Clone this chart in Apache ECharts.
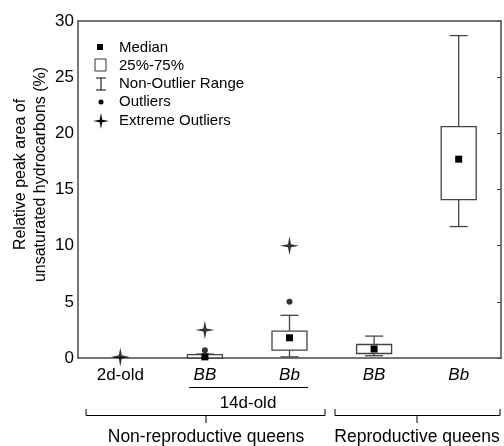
<!DOCTYPE html>
<html><head><meta charset="utf-8">
<script src="https://cdn.jsdelivr.net/npm/echarts@6/dist/echarts.min.js"></script>
<style>html,body{margin:0;padding:0;background:#fff}#c{width:504px;height:446px}</style>
</head><body><div id="c"></div>
<script>
const categories = ['2d-old', 'BB', 'Bb', 'BB2', 'Bb2'];
const categoryLabels = ['2d-old', '{i|BB}', '{i|Bb}', '{i|BB}', '{i|Bb}'];
// [low whisker, q1, median, q3, high whisker]
const boxStats = [
  null,
  [0, 0.0, 0.1, 0.3, 0.35],
  [0.1, 0.7, 1.8, 2.4, 3.8],
  [0.2, 0.4, 0.8, 1.2, 1.95],
  [11.7, 14.1, 17.7, 20.6, 28.7]
];
const outliers = [[1, 0.7], [2, 5.0]];
const extremeOutliers = [[0, 0.1], [1, 2.5], [2, 10.0]];
const yTicks = [0, 5, 10, 15, 20, 25, 30];

const chart = echarts.init(document.getElementById('c'));
const FONT = 'Liberation Sans, Arial, sans-serif';
const AX = '#4a4a4a';
const STAR = 'path://M0,-10 L1.6,-1.6 L10,0 L1.6,1.6 L0,10 L-1.6,1.6 L-10,0 L-1.6,-1.6 Z';

function starPoints(cx, cy, r, ri) {
  return [[cx, cy - r], [cx + ri, cy - ri], [cx + r, cy], [cx + ri, cy + ri],
          [cx, cy + r], [cx - ri, cy + ri], [cx - r, cy], [cx - ri, cy - ri]];
}

const boxData = [];
boxStats.forEach((s, i) => { if (s) boxData.push([i].concat(s)); });

function txt(x, y, text, size, align) {
  return { type: 'text', x: x, y: y, style: { text: text, fontSize: size || 15, fontFamily: FONT, fill: '#000',
    align: align || 'left', verticalAlign: 'middle' } };
}

chart.setOption({
  animation: false,
  textStyle: { fontFamily: FONT },
  grid: { left: 78, right: 3, top: 21, bottom: 88, containLabel: false, outerBoundsMode: 'none' },
  xAxis: [{
    type: 'category', data: categories, boundaryGap: true,
    axisLine: { lineStyle: { color: AX, width: 1.5 } },
    axisTick: { inside: true, alignWithLabel: true, length: 4, lineStyle: { color: AX } },
    axisLabel: {
      color: '#000', fontSize: 17, margin: 9, fontFamily: FONT,
      formatter: (v, i) => categoryLabels[i],
      rich: { i: { fontStyle: 'italic', fontSize: 17, fontFamily: FONT, color: '#000' } }
    },
    splitLine: { show: false }
  }, {
    type: 'category', data: categories, position: 'top', boundaryGap: true,
    axisLine: { onZero: false, lineStyle: { color: AX, width: 1.5 } },
    axisTick: { inside: true, alignWithLabel: true, length: 4, lineStyle: { color: AX } },
    axisLabel: { show: false }
  }],
  yAxis: [{
    type: 'value', min: 0, max: 30, interval: 5,
    name: 'Relative peak area of\nunsaturated hydrocarbons (%)',
    nameLocation: 'middle', nameGap: 27, nameMoveOverlap: false,
    nameTextStyle: { color: '#000', fontSize: 16, lineHeight: 20, fontFamily: FONT, padding: [0, 0, 0, 30] },
    axisLine: { show: true, onZero: false, lineStyle: { color: AX, width: 1.5 } },
    axisTick: { show: false },
    axisLabel: { color: '#000', fontSize: 17, margin: 4, fontFamily: FONT },
    splitLine: { show: false }
  }, {
    type: 'value', min: 0, max: 30, interval: 5, position: 'right',
    axisLine: { show: true, onZero: false, lineStyle: { color: AX, width: 1.5 } },
    axisTick: { show: true, inside: true, length: 4, lineStyle: { color: AX } },
    axisLabel: { show: false }, splitLine: { show: false }
  }],
  series: [{
    type: 'custom',
    data: boxData,
    renderItem: function (params, api) {
      const x = api.value(0);
      const lo = api.coord([x, api.value(1)]);
      const q1 = api.coord([x, api.value(2)]);
      const md = api.coord([x, api.value(3)]);
      const q3 = api.coord([x, api.value(4)]);
      const hi = api.coord([x, api.value(5)]);
      const bw = 35, cw = 18, cx = lo[0];
      const ls = { stroke: '#444', lineWidth: 1.3, fill: null };
      return {
        type: 'group',
        children: [
          { type: 'line', shape: { x1: cx, y1: q3[1], x2: cx, y2: hi[1] }, style: ls },
          { type: 'line', shape: { x1: cx - cw / 2, y1: hi[1], x2: cx + cw / 2, y2: hi[1] }, style: ls },
          { type: 'line', shape: { x1: cx, y1: q1[1], x2: cx, y2: lo[1] }, style: ls },
          { type: 'line', shape: { x1: cx - cw / 2, y1: lo[1], x2: cx + cw / 2, y2: lo[1] }, style: ls },
          { type: 'rect', shape: { x: cx - bw / 2, y: q3[1], width: bw, height: q1[1] - q3[1] },
            style: { stroke: '#444', lineWidth: 1.3, fill: '#fff' } },
          { type: 'rect', shape: { x: cx - 3.5, y: md[1] - 3.5, width: 7, height: 7 },
            style: { fill: '#000' } }
        ]
      };
    },
    z: 3
  }, {
    type: 'scatter', data: outliers, symbol: 'circle', symbolSize: 6,
    itemStyle: { color: '#000' }, z: 4
  }, {
    type: 'scatter', data: extremeOutliers, symbol: STAR, symbolSize: 19,
    itemStyle: { color: '#000' }, z: 4
  }],
  graphic: [
    // legend
    { type: 'rect', shape: { x: 97, y: 44, width: 6, height: 6 }, style: { fill: '#000' } },
    txt(119, 48, 'Median'),
    { type: 'rect', shape: { x: 95, y: 59, width: 11, height: 12 }, style: { fill: '#fff', stroke: '#333', lineWidth: 1 } },
    txt(119, 66, '25%-75%'),
    { type: 'line', shape: { x1: 96, y1: 78, x2: 106, y2: 78 }, style: { stroke: '#000', lineWidth: 1 } },
    { type: 'line', shape: { x1: 101, y1: 78, x2: 101, y2: 90 }, style: { stroke: '#000', lineWidth: 1 } },
    { type: 'line', shape: { x1: 96, y1: 90, x2: 106, y2: 90 }, style: { stroke: '#000', lineWidth: 1 } },
    txt(119, 84, 'Non-Outlier Range'),
    { type: 'circle', shape: { cx: 101, cy: 102, r: 2.5 }, style: { fill: '#000' } },
    txt(119, 102, 'Outliers'),
    { type: 'polygon', shape: { points: starPoints(101, 121, 8, 1.3) }, style: { fill: '#000' } },
    txt(119, 121, 'Extreme Outliers'),
    // 14d-old underline and label
    { type: 'line', shape: { x1: 189, y1: 387.5, x2: 308, y2: 387.5 }, style: { stroke: '#000', lineWidth: 1 } },
    txt(248, 403, '14d-old', 17, 'center'),
    // braces
    { type: 'polyline', shape: { points: [[86, 409], [86, 415.5], [325, 415.5], [325, 409]] }, style: { stroke: '#000', lineWidth: 1, fill: null } },
    { type: 'line', shape: { x1: 206, y1: 415.5, x2: 206, y2: 423 }, style: { stroke: '#000', lineWidth: 1 } },
    { type: 'polyline', shape: { points: [[335, 409], [335, 415.5], [500, 415.5], [500, 409]] }, style: { stroke: '#000', lineWidth: 1, fill: null } },
    { type: 'line', shape: { x1: 417, y1: 415.5, x2: 417, y2: 423 }, style: { stroke: '#000', lineWidth: 1 } },
    txt(206, 437, 'Non-reproductive queens', 17.5, 'center'),
    txt(417, 437, 'Reproductive queens', 17.5, 'center')
  ]
});
</script></body></html>
